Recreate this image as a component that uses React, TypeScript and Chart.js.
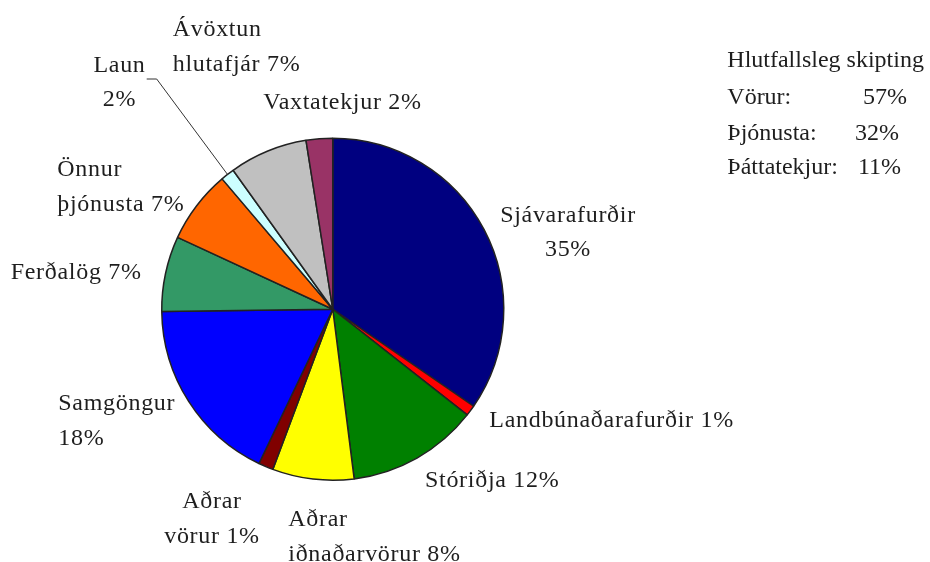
import React, { useEffect, useRef } from "react";
import { Chart, registerables } from "chart.js";

Chart.register(...registerables);

// ---- data ----
const categories = [
  "Sjávarafurðir",
  "Landbúnaðarafurðir",
  "Stóriðja",
  "Aðrar iðnaðarvörur",
  "Aðrar vörur",
  "Samgöngur",
  "Ferðalög",
  "Önnur þjónusta",
  "Laun",
  "Ávöxtun hlutafjár",
  "Vaxtatekjur",
];
const values = [34.6, 1.0, 12.4, 7.7, 1.4, 17.7, 7.1, 6.9, 1.3, 7.4, 2.5];
const shownPct = [35, 1, 12, 8, 1, 18, 7, 7, 2, 7, 2];
const colors = [
  "#000080",
  "#FF0000",
  "#008000",
  "#FFFF00",
  "#800000",
  "#0000FF",
  "#339966",
  "#FF6600",
  "#CCFFFF",
  "#C0C0C0",
  "#993366",
];
const summaryTitle = "Hlutfallsleg skipting";
const summaryNames = ["Vörur:", "Þjónusta:", "Þáttatekjur:"];
const summaryPct = [57, 32, 11];

// ---- layout (label placement) ----
// words on first line (0 = single line), x, first baseline, alignment
const labelLayout = [
  { brk: 1, x: 568, y: 221.7, align: "center" },
  { brk: 0, x: 489.3, y: 426.7, align: "left" },
  { brk: 0, x: 425, y: 486.7, align: "left" },
  { brk: 1, x: 288.3, y: 526, align: "left" },
  { brk: 1, x: 212, y: 508, align: "center" },
  { brk: 1, x: 58.3, y: 410, align: "left" },
  { brk: 0, x: 10.7, y: 279, align: "left" },
  { brk: 1, x: 57.3, y: 176, align: "left" },
  { brk: 1, x: 119.5, y: 71.7, align: "center" },
  { brk: 1, x: 172.7, y: 36, align: "left" },
  { brk: 0, x: 263.3, y: 109.3, align: "left" },
];
const LINE_H = 34.5;
const FONT = "24px 'Liberation Serif', 'Times New Roman', serif";
const LABEL_SPACING = "0.7px";
const TEXT_COLOR = "#1e1e1e";
const LEADER_INDEX = 8;
const leaderStart = { x: 146.7, x2: 156.7, y: 79 };
const summaryX = 727.3;
const summaryBaselines = [66.7, 103.5, 139.5, 174];
const summaryPctX = [863, 855, 858];

const labelPlugin = {
  id: "pieLabels",
  afterDraw(chart: any) {
    const ctx = chart.ctx as CanvasRenderingContext2D;
    const meta = chart.getDatasetMeta(0);
    ctx.save();
    ctx.font = FONT;
    ctx.fillStyle = TEXT_COLOR;
    ctx.textBaseline = "alphabetic";
    (ctx as any).letterSpacing = LABEL_SPACING;
    categories.forEach((name, i) => {
      const lay = labelLayout[i];
      const words = (name + " " + shownPct[i] + "%").split(" ");
      const lines =
        lay.brk > 0
          ? [words.slice(0, lay.brk).join(" "), words.slice(lay.brk).join(" ")]
          : [words.join(" ")];
      ctx.textAlign = lay.align as CanvasTextAlign;
      lines.forEach((ln, k) => ctx.fillText(ln, lay.x, lay.y + k * LINE_H));
    });
    (ctx as any).letterSpacing = "0px";

    // leader line for the small slice
    const arc = meta.data[LEADER_INDEX] as any;
    if (arc) {
      const p = arc.getProps(["x", "y", "startAngle", "endAngle", "outerRadius"], true);
      const mid = (p.startAngle + p.endAngle) / 2;
      const ex = p.x + Math.cos(mid) * p.outerRadius;
      const ey = p.y + Math.sin(mid) * p.outerRadius;
      ctx.beginPath();
      ctx.strokeStyle = "#333";
      ctx.lineWidth = 1;
      ctx.moveTo(leaderStart.x, leaderStart.y);
      ctx.lineTo(leaderStart.x2, leaderStart.y);
      ctx.lineTo(ex, ey);
      ctx.stroke();
    }

    // summary block
    ctx.textAlign = "left";
    ctx.fillText(summaryTitle, summaryX, summaryBaselines[0]);
    summaryNames.forEach((n, i) => {
      ctx.fillText(n, summaryX, summaryBaselines[i + 1]);
      ctx.fillText(summaryPct[i] + "%", summaryPctX[i], summaryBaselines[i + 1]);
    });
    ctx.restore();
  },
};

export default function App() {
  const ref = useRef<HTMLCanvasElement | null>(null);
  useEffect(() => {
    document.body.style.margin = "0";
    const canvas = ref.current;
    if (!canvas) return;
    const chart = new Chart(canvas, {
      type: "pie",
      data: {
        labels: categories,
        datasets: [
          {
            data: values,
            backgroundColor: colors,
            borderColor: "#222222",
            borderWidth: 1.5,
          },
        ],
      },
      options: {
        responsive: false,
        animation: false,
        layout: { padding: { left: 161, right: 425.5, top: 137.5, bottom: 81 } },
        plugins: {
          legend: { display: false },
          tooltip: { enabled: false },
        },
      },
      plugins: [labelPlugin],
    });
    return () => chart.destroy();
  }, []);
  return (
    <div style={{ width: 930, height: 562, background: "#fff" }}>
      <canvas ref={ref} width={930} height={562} style={{ display: "block" }} />
    </div>
  );
}
